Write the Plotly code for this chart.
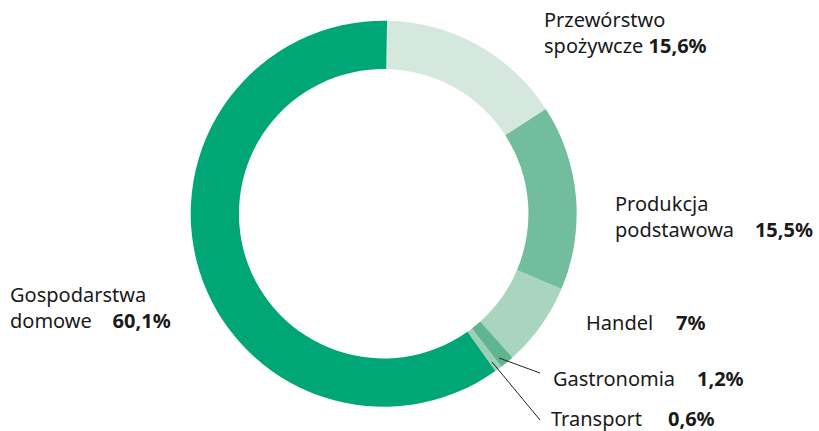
import plotly.graph_objects as go

categories = ["Przewórstwo spożywcze", "Produkcja podstawowa", "Handel", "Gastronomia", "Transport", "Gospodarstwa domowe"]
values = [15.6, 15.5, 7.0, 1.2, 0.6, 60.1]
value_labels = ["15,6%", "15,5%", "7%", "1,2%", "0,6%", "60,1%"]
colors = ["#d5e8de", "#72bd9d", "#a9d5bf", "#5fb590", "#9ccfb6", "#00a676"]

W, H = 819, 431
fig = go.Figure(go.Pie(
    labels=categories, values=values, sort=False, direction="clockwise",
    rotation=1, hole=0.75, textinfo="none", hoverinfo="label+value",
    marker=dict(colors=colors, line=dict(width=0)),
    domain=dict(x=[190.7 / W, 576.7 / W], y=[(H - 406.7) / H, (H - 20.7) / H]),
    showlegend=False,
))

FONT = "Noto Sans"
TXT = "#1a1a1a"
FS = 20
SP = "&nbsp;"

def px(x):
    return x / W

def py(y):
    return 1 - y / H

def ann(text, x, y):
    return dict(x=px(x), y=py(y), xref="paper", yref="paper", text=text,
                showarrow=False, xanchor="left", yanchor="middle", align="left",
                borderpad=0, font=dict(family=FONT, size=FS, color=TXT))

annotations = [
    # two-line labels: name + value in one block
    ann("Przewórstwo<br>spożywcze" + SP + "<b>" + value_labels[0] + "</b>", 543, 33),
    ann("Produkcja<br>podstawowa" + SP * 4 + "<b>" + value_labels[1] + "</b>", 614, 216),
    ann("Gospodarstwa<br>domowe" + SP * 4 + "<b>" + value_labels[5] + "</b>", 9, 307),
    # one-line labels: name and value placed separately
    ann("Handel", 585, 322), ann("<b>" + value_labels[2] + "</b>", 675, 322),
    ann("Gastronomia", 552, 378), ann("<b>" + value_labels[3] + "</b>", 696, 378),
    ann("Transport", 550, 418), ann("<b>" + value_labels[4] + "</b>", 667, 418),
]

shapes = [
    dict(type="line", xref="paper", yref="paper", x0=px(499), y0=py(358), x1=px(540), y1=py(373),
         line=dict(color="#222222", width=1)),
    dict(type="line", xref="paper", yref="paper", x0=px(492), y0=py(362), x1=px(540), y1=py(420),
         line=dict(color="#222222", width=1)),
]

fig.update_layout(
    width=W, height=H, margin=dict(l=0, r=0, t=0, b=0),
    paper_bgcolor="white", plot_bgcolor="white",
    annotations=annotations, shapes=shapes,
)

fig.write_html("out.html", config={"displayModeBar": False},
               post_script="document.body.style.margin='0';document.body.style.overflow='hidden';")
